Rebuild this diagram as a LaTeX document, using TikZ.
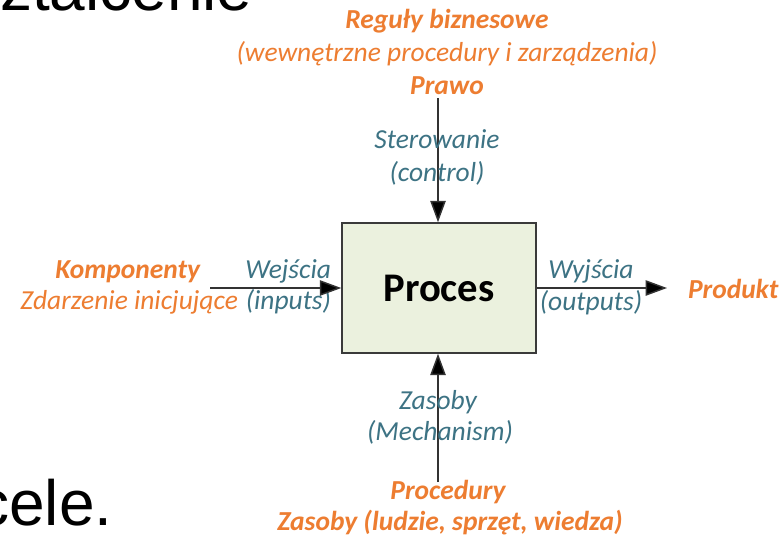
\documentclass[tikz,border=0pt]{standalone}
\usepackage{fontspec}
\setmainfont{Carlito}
\newfontfamily\arialf{Liberation Sans}
\usetikzlibrary{arrows.meta}
\definecolor{orangeT}{HTML}{ED7D31}
\definecolor{blueT}{HTML}{3D7384}
\definecolor{boxfill}{HTML}{EBF1DE}
\definecolor{boxdraw}{HTML}{3A3A3A}
\definecolor{linec}{HTML}{333333}
\begin{document}
\begin{tikzpicture}[x=0.75pt,y=-0.75pt,
  lbl/.style={inner sep=0pt,outer sep=0pt,font=\fontsize{20.6}{24}\selectfont},
  orb/.style={lbl,text=orangeT,font=\fontsize{20.6}{24}\selectfont\bfseries\itshape},
  ori/.style={lbl,text=orangeT,font=\fontsize{20.6}{24}\selectfont\itshape},
  blu/.style={lbl,text=blueT,font=\fontsize{20.6}{24}\selectfont\itshape},
  big/.style={inner sep=0pt,outer sep=0pt,font=\arialf\fontsize{48}{56}\selectfont},
  procbox/.style={draw=boxdraw,line width=1.1pt,fill=boxfill,minimum width=145.5pt,minimum height=97.5pt,inner sep=0pt,font=\fontsize{30.5}{36}\selectfont\bfseries},
  conn/.style={draw=linec,line width=1.1pt,-{Triangle[width=11.5pt,length=16pt,fill=black]}}]
\useasboundingbox (0,0) rectangle (781,536);
\clip (0,0) rectangle (781,536);
\fill[white] (0,0) rectangle (781,536);

% large background text
\node[big,anchor=base west] (zt) at (0,10) {ztałcenie};
\node[big,anchor=base west] (cele) at (-22.6,525) {cele.};

% process box
\node[procbox] (box) at (439,288) {Proces};

% top
\node[orb,anchor=base] (reg) at (447,28) {Reguły biznesowe};
\node[ori,anchor=base] (wew) at (447,61) {(wewnętrzne procedury i zarządzenia)};
\node[orb,anchor=base] (prawo) at (447,94) {Prawo};
\coordinate (ctop) at (438,98);
\draw[conn] (ctop) -- (ctop |- box.north);
\node[blu,anchor=base] (ster) at (437,148) {Sterowanie};
\node[blu,anchor=base] (ctrl) at (437,181) {(control)};

% left
\node[orb,anchor=base east] (komp) at (200,278) {Komponenty};
\node[ori,anchor=base east] (zdarz) at (238,309) {Zdarzenie inicjujące};
\node[blu,anchor=base east] (wej) at (331,278) {Wejścia};
\node[blu,anchor=base east] (inp) at (331,309) {(inputs)};
\coordinate (cleft) at (210,288);
\draw[conn] (cleft) -- (box.west);

% right
\node[blu,anchor=base] (wyj) at (591,278) {Wyjścia};
\node[blu,anchor=base] (outp) at (591,310) {(outputs)};
\coordinate (cright) at (667,288);
\draw[conn] (box.east) -- (cright);
\node[orb,anchor=base west] (prod) at (688,298) {Produkt};

% bottom
\coordinate (cbot) at (438,482);
\draw[conn] (cbot) -- (cbot |- box.south);
\node[blu,anchor=base] (zas) at (438,409) {Zasoby};
\node[blu,anchor=base] (mech) at (440,440) {(Mechanism)};
\node[orb,anchor=base] (proc) at (448,499) {Procedury};
\node[orb,anchor=base] (zasl) at (450,530) {Zasoby (ludzie, sprzęt, wiedza)};
\end{tikzpicture}
\end{document}
